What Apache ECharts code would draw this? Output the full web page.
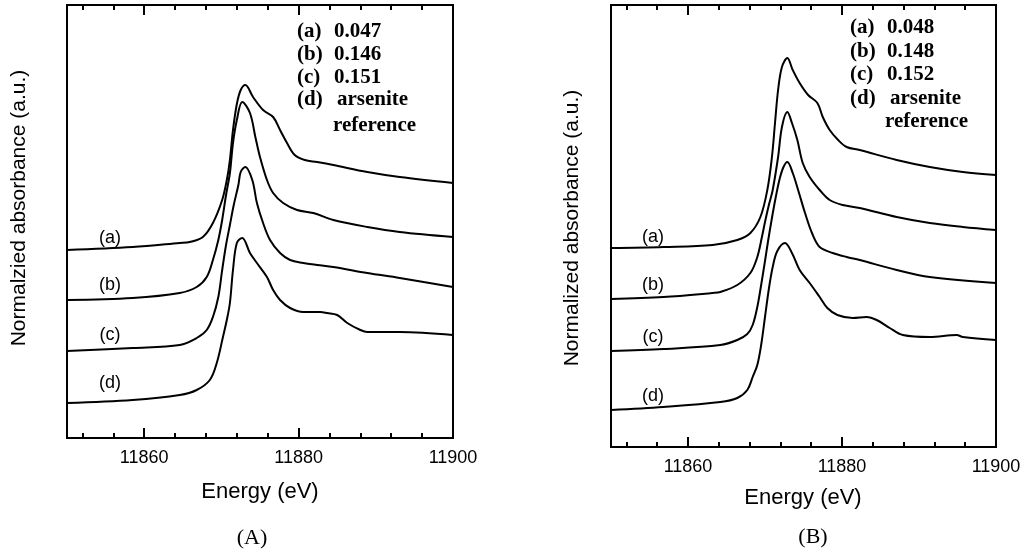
<!DOCTYPE html>
<html>
<head>
<meta charset="utf-8">
<script src="https://cdn.jsdelivr.net/npm/echarts@6/dist/echarts.min.js"></script>
<style>
  html, body { margin: 0; padding: 0; background: #fff; }
  #chart { width: 1030px; height: 552px; }
</style>
</head>
<body>
<div id="chart"></div>
<script>
// As K-edge XANES spectra, [energy (eV), normalized absorbance (a.u., stacked)]
const specA_a = [[11850,1.88],[11858.5,1.91],[11864.6,1.95],[11865.9,1.96],[11867.6,2.01],[11868.9,2.15],[11870.1,2.38],[11870.7,2.58],[11871.1,2.78],[11871.5,3.08],[11872.0,3.34],[11872.5,3.48],[11873.1,3.53],[11874.1,3.41],[11875.4,3.28],[11876.7,3.21],[11877.6,3.08],[11878.5,2.95],[11879.5,2.83],[11880.8,2.78],[11882.4,2.76],[11884.5,2.73],[11888.9,2.66],[11893.1,2.61],[11900,2.55]];
const specA_b = [[11850,1.38],[11858.5,1.40],[11864.6,1.45],[11866.8,1.51],[11868.1,1.61],[11868.9,1.78],[11869.6,1.98],[11870.1,2.18],[11870.6,2.43],[11871.1,2.65],[11871.5,2.95],[11872.0,3.18],[11872.7,3.36],[11873.7,3.25],[11874.4,3.01],[11875.0,2.81],[11875.9,2.58],[11876.7,2.45],[11878.0,2.35],[11879.8,2.28],[11881.9,2.25],[11884.5,2.18],[11888.9,2.11],[11893.1,2.06],[11900,2.01]];
const specA_c = [[11850,0.87],[11858.5,0.90],[11864.6,0.93],[11866.8,1.00],[11868.1,1.08],[11868.9,1.21],[11869.6,1.41],[11870.1,1.68],[11870.6,1.93],[11871.1,2.13],[11871.6,2.33],[11872.2,2.53],[11872.5,2.66],[11873.1,2.71],[11874.0,2.58],[11874.6,2.35],[11875.4,2.15],[11876.3,1.98],[11877.6,1.85],[11878.9,1.78],[11880.6,1.75],[11882.4,1.73],[11884.5,1.71],[11888.9,1.65],[11893.1,1.60],[11900,1.51]];
const specA_d = [[11850,0.35],[11858.5,0.38],[11864.6,0.43],[11866.8,0.48],[11868.5,0.58],[11869.4,0.75],[11870.2,1.01],[11870.7,1.18],[11871.1,1.35],[11871.5,1.68],[11872.0,1.95],[11872.7,2.00],[11873.7,1.85],[11874.6,1.75],[11875.9,1.61],[11876.7,1.48],[11877.6,1.38],[11878.9,1.30],[11880.6,1.26],[11882.8,1.26],[11883.7,1.25],[11885.0,1.23],[11886.3,1.15],[11888.0,1.08],[11888.9,1.06],[11893.1,1.06],[11900,1.03]];

const specB_a = [[11850,1.99],[11856.8,2.00],[11863.2,2.02],[11866.4,2.07],[11868.1,2.14],[11869.4,2.30],[11870.3,2.57],[11870.9,2.90],[11871.3,3.24],[11871.7,3.57],[11872.2,3.80],[11872.9,3.89],[11873.6,3.77],[11874.5,3.64],[11875.6,3.52],[11876.8,3.44],[11877.5,3.30],[11878.4,3.17],[11879.5,3.07],[11880.6,3.00],[11882.3,2.97],[11887.1,2.87],[11891.4,2.80],[11895.7,2.75],[11900,2.72]];
const specB_b = [[11850,1.48],[11856.8,1.50],[11863.2,1.54],[11864.2,1.55],[11866.4,1.62],[11868.1,1.74],[11869.0,1.90],[11869.6,2.10],[11870.0,2.25],[11870.5,2.42],[11871.0,2.57],[11871.7,2.90],[11872.2,3.20],[11872.9,3.35],[11873.5,3.24],[11874.2,3.07],[11874.9,2.84],[11875.8,2.70],[11877.1,2.57],[11878.4,2.47],[11880.1,2.42],[11882.3,2.39],[11887.1,2.30],[11891.4,2.24],[11895.7,2.20],[11900,2.17]];
const specB_c = [[11850,0.96],[11856.8,0.98],[11864.2,1.02],[11866.4,1.07],[11867.7,1.13],[11868.4,1.22],[11869.0,1.40],[11869.5,1.62],[11870.0,1.86],[11870.4,2.06],[11870.9,2.29],[11871.4,2.50],[11871.9,2.68],[11872.4,2.80],[11872.9,2.85],[11873.6,2.74],[11874.3,2.57],[11875.2,2.34],[11876.1,2.14],[11877.1,2.00],[11878.8,1.94],[11880.6,1.90],[11882.3,1.87],[11887.1,1.77],[11891.4,1.70],[11900,1.64]];
const specB_d = [[11850,0.37],[11856.8,0.40],[11864.2,0.45],[11866.4,0.49],[11867.7,0.57],[11868.4,0.70],[11869.0,0.82],[11869.5,1.02],[11870.0,1.30],[11870.5,1.58],[11871.0,1.80],[11871.6,1.96],[11872.6,2.04],[11873.5,1.94],[11874.5,1.77],[11875.8,1.64],[11877.1,1.50],[11878.1,1.39],[11879.4,1.32],[11881.4,1.29],[11883.2,1.30],[11884.5,1.27],[11886.2,1.19],[11887.9,1.12],[11891.4,1.10],[11894.9,1.12],[11895.7,1.10],[11900,1.07]];

// Energy axis ticks
const energyLabels = [11860, 11880, 11900];
const majorTicks = [11860, 11880];
const minorTicks = [11852, 11856, 11864, 11868, 11872, 11876, 11884, 11888, 11892, 11896];

// Curve tags and legend text
const curveTags = ['(a)', '(b)', '(c)', '(d)'];
const legendValuesA = ['0.047', '0.146', '0.151', 'arsenite'];
const legendValuesB = ['0.048', '0.148', '0.152', 'arsenite'];
const legendTail = 'reference';
const xTitle = 'Energy (eV)';
const yTitleA = 'Normalzied absorbance (a.u.)';
const yTitleB = 'Normalized absorbance (a.u.)';
const panelTags = ['(A)', '(B)'];

const SANS = '"Liberation Sans", Arial, Helvetica, sans-serif';
const SERIF = '"Liberation Serif", "Times New Roman", serif';
const INK = '#000';

const chart = echarts.init(document.getElementById('chart'), null, { renderer: 'canvas' });

const grids = [
  { left: 67, top: 5, width: 386, height: 433 },
  { left: 611, top: 5, width: 385, height: 442 }
];

function energyAxes(gridIndex) {
  const base = {
    type: 'value', gridIndex, min: 11850, max: 11900,
    axisLine: { show: false }, splitLine: { show: false }
  };
  return [
    Object.assign({}, base, {
      position: 'bottom',
      axisTick: { show: true, inside: true, length: 10, customValues: majorTicks, lineStyle: { color: INK, width: 2 } },
      axisLabel: { show: true, customValues: energyLabels, margin: 11, color: INK, fontSize: 18, fontFamily: SANS,
        formatter: v => String(v) }
    }),
    Object.assign({}, base, {
      position: 'bottom',
      axisTick: { show: true, inside: true, length: 5, customValues: minorTicks, lineStyle: { color: INK, width: 2 } },
      axisLabel: { show: false }
    }),
    Object.assign({}, base, {
      position: 'top',
      axisTick: { show: true, inside: true, length: 10, customValues: majorTicks, lineStyle: { color: INK, width: 2 } },
      axisLabel: { show: false }
    }),
    Object.assign({}, base, {
      position: 'top',
      axisTick: { show: true, inside: true, length: 5, customValues: minorTicks, lineStyle: { color: INK, width: 2 } },
      axisLabel: { show: false }
    })
  ];
}

function absorbanceAxis(gridIndex, max) {
  return {
    type: 'value', gridIndex, min: 0, max,
    axisLine: { show: false }, axisTick: { show: false },
    axisLabel: { show: false }, splitLine: { show: false }
  };
}

function spectrum(data, xAxisIndex, yAxisIndex) {
  return {
    type: 'line', data, xAxisIndex, yAxisIndex,
    showSymbol: false, smooth: 0.35,
    lineStyle: { color: INK, width: 2, join: 'round', cap: 'round' }, silent: true, animation: false
  };
}

function txt(x, y, text, font, extra) {
  return Object.assign({
    type: 'text', x, y, silent: true,
    style: { text, fill: INK, font, align: 'center', verticalAlign: 'middle' }
  }, extra || {});
}

function legendBlock(keyX, valX, valuesY, values, tailX, tailY) {
  const f = 'bold 21px ' + SERIF;
  const out = [];
  values.forEach((v, i) => {
    out.push({ type: 'text', x: keyX, y: valuesY[i], silent: true,
      style: { text: curveTags[i], fill: INK, font: f, align: 'left', verticalAlign: 'middle' } });
    out.push({ type: 'text', x: valX + (i === 3 ? 3 : 0), y: valuesY[i], silent: true,
      style: { text: v, fill: INK, font: f, align: 'left', verticalAlign: 'middle' } });
  });
  out.push({ type: 'text', x: tailX, y: tailY, silent: true,
    style: { text: legendTail, fill: INK, font: f, align: 'left', verticalAlign: 'middle' } });
  return out;
}

const graphics = [];
// axis titles
graphics.push(txt(260, 492, xTitle, '22px ' + SANS));
graphics.push(txt(803, 498, xTitle, '22px ' + SANS));
graphics.push(txt(19, 208, yTitleA, '21px ' + SANS, { rotation: Math.PI / 2 }));
graphics.push(txt(572, 228, yTitleB, '21px ' + SANS, { rotation: Math.PI / 2 }));
// panel tags
graphics.push(txt(252, 538, panelTags[0], '22px ' + SERIF));
graphics.push(txt(813, 537, panelTags[1], '22px ' + SERIF));
// curve tags
const tagYA = [238, 285, 335, 383];
const tagYB = [237, 285, 337, 396];
curveTags.forEach((t, i) => {
  graphics.push(txt(110, tagYA[i], t, '18px ' + SANS));
  graphics.push(txt(653, tagYB[i], t, '18px ' + SANS));
});
// legends
graphics.push(...legendBlock(297, 334, [32, 55, 78, 100], legendValuesA, 333, 126));
graphics.push(...legendBlock(850, 887, [28, 52, 75, 99], legendValuesB, 885, 122));

chart.setOption({
  animation: false,
  backgroundColor: '#fff',
  grid: grids.map(g => Object.assign({ show: true, borderColor: INK, borderWidth: 2, backgroundColor: 'transparent' }, g)),
  xAxis: [...energyAxes(0), ...energyAxes(1)],
  yAxis: [absorbanceAxis(0, 4.33), absorbanceAxis(1, 4.42)],
  series: [
    spectrum(specA_a, 0, 0), spectrum(specA_b, 0, 0), spectrum(specA_c, 0, 0), spectrum(specA_d, 0, 0),
    spectrum(specB_a, 4, 1), spectrum(specB_b, 4, 1), spectrum(specB_c, 4, 1), spectrum(specB_d, 4, 1)
  ],
  graphic: graphics
});
</script>
</body>
</html>
